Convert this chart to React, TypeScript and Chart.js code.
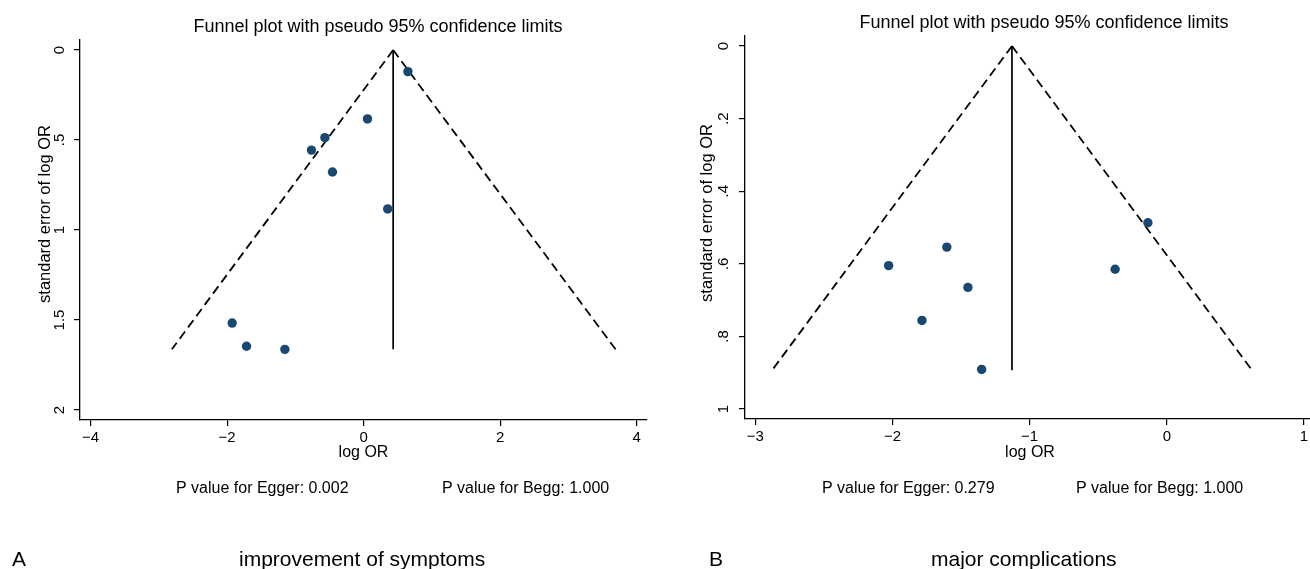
import React, { useEffect, useRef } from "react";
import { Chart, registerables } from "chart.js";

Chart.register(...registerables);

const FONT = "'Liberation Sans', Arial, Helvetica, sans-serif";

// ---------- Panel A: improvement of symptoms ----------
const logOrA = [0.648, 0.056, -0.568, -0.765, -0.457, 0.352, -1.926, -1.716, -1.154];
const seA = [0.12, 0.383, 0.487, 0.556, 0.678, 0.883, 1.517, 1.646, 1.663];
const pooledA = 0.432;
const seMaxA = 1.663;
const lowerLimitA = -2.81;
const upperLimitA = 3.69;
const xTicksA = [-4, -2, 0, 2, 4];
const xTickLabelsA = ["\u22124", "\u22122", "0", "2", "4"];
const yTicksA = [0, 0.5, 1, 1.5, 2];
const yTickLabelsA = ["0", ".5", "1", "1.5", "2"];
const pEggerA = "P value for Egger: 0.002";
const pBeggA = "P value for Begg: 1.000";
const letterA = "A";
const captionA = "improvement of symptoms";

// ---------- Panel B: major complications ----------
const logOrB = [-0.138, -0.377, -1.604, -2.028, -1.45, -1.785, -1.35];
const seB = [0.487, 0.615, 0.554, 0.605, 0.665, 0.756, 0.891];
const pooledB = -1.129;
const seMaxB = 0.893;
const lowerLimitB = -2.877;
const upperLimitB = 0.62;
const xTicksB = [-3, -2, -1, 0, 1];
const xTickLabelsB = ["\u22123", "\u22122", "\u22121", "0", "1"];
const yTicksB = [0, 0.2, 0.4, 0.6, 0.8, 1];
const yTickLabelsB = ["0", ".2", ".4", ".6", ".8", "1"];
const pEggerB = "P value for Egger: 0.279";
const pBeggB = "P value for Begg: 1.000";
const letterB = "B";
const captionB = "major complications";

const plotTitle = "Funnel plot with pseudo 95% confidence limits";
const xAxisTitle = "log OR";
const yAxisTitle = "standard error of log OR";

type TextItem = {
  text: string;
  x: number;
  y: number;
  size: number;
  align: CanvasTextAlign;
  rotate?: boolean;
};

type PanelProps = {
  left: number;
  width: number;
  height: number;
  logOr: number[];
  se: number[];
  pooled: number;
  seMax: number;
  lower: number;
  upper: number;
  xTicks: number[];
  xTickLabels: string[];
  yTicks: number[];
  yTickLabels: string[];
  xMin: number;
  xMax: number;
  yMin: number;
  yMax: number;
  padding: { left: number; top: number; right: number; bottom: number };
  yAxisWidth: number;
  xAxisHeight: number;
  yTickPad: number;
  xTickPad: number;
  xTitlePad: number;
  texts: TextItem[];
};

function FunnelPanel(p: PanelProps) {
  const ref = useRef<HTMLCanvasElement | null>(null);

  useEffect(() => {
    const canvas = ref.current;
    if (!canvas) return;

    const textPlugin = {
      id: "extraTexts",
      afterDraw(chart: any) {
        const ctx = chart.ctx as CanvasRenderingContext2D;
        ctx.save();
        ctx.fillStyle = "#000";
        for (const t of p.texts) {
          ctx.font = `${t.size}px ${FONT}`;
          ctx.textAlign = t.align;
          if (t.rotate) {
            ctx.save();
            ctx.translate(t.x, t.y);
            ctx.rotate(-Math.PI / 2);
            ctx.textBaseline = "middle";
            ctx.fillText(t.text, 0, 0);
            ctx.restore();
          } else {
            ctx.textBaseline = "alphabetic";
            ctx.fillText(t.text, t.x, t.y);
          }
        }
        ctx.restore();
      },
    };

    const points = p.logOr.map((x, i) => ({ x, y: p.se[i] }));

    const chart = new Chart(canvas, {
      type: "scatter",
      data: {
        datasets: [
          {
            label: "studies",
            data: points,
            backgroundColor: "#1a476f",
            borderColor: "#1a476f",
            borderWidth: 0,
            pointRadius: 4.7,
            pointHoverRadius: 4.7,
            showLine: false,
          },
          {
            label: "pooled",
            data: [
              { x: p.pooled, y: 0 },
              { x: p.pooled, y: p.seMax },
            ],
            showLine: true,
            borderColor: "#000",
            borderWidth: 1.7,
            pointRadius: 0,
            pointHoverRadius: 0,
          },
          {
            label: "lower limit",
            data: [
              { x: p.pooled, y: 0 },
              { x: p.lower, y: p.seMax },
            ],
            showLine: true,
            borderColor: "#000",
            borderWidth: 1.8,
            borderDash: [9, 5],
            pointRadius: 0,
            pointHoverRadius: 0,
          },
          {
            label: "upper limit",
            data: [
              { x: p.pooled, y: 0 },
              { x: p.upper, y: p.seMax },
            ],
            showLine: true,
            borderColor: "#000",
            borderWidth: 1.8,
            borderDash: [9, 5],
            pointRadius: 0,
            pointHoverRadius: 0,
          },
        ],
      },
      options: {
        animation: false,
        responsive: false,
        maintainAspectRatio: false,
        events: [],
        layout: { padding: p.padding },
        plugins: {
          legend: { display: false },
          tooltip: { enabled: false },
          title: { display: false },
        },
        scales: {
          x: {
            type: "linear",
            position: "bottom",
            min: p.xMin,
            max: p.xMax,
            afterBuildTicks: (s: any) => {
              s.ticks = p.xTicks.map((v) => ({ value: v }));
            },
            afterFit: (s: any) => {
              s.height = p.xAxisHeight;
            },
            ticks: {
              autoSkip: false,
              maxRotation: 0,
              minRotation: 0,
              padding: p.xTickPad,
              color: "#000",
              font: { family: FONT, size: 15 },
              callback: (v: any) => {
                const i = p.xTicks.indexOf(Number(v));
                return i >= 0 ? p.xTickLabels[i] : "";
              },
            },
            grid: {
              display: true,
              drawOnChartArea: false,
              drawTicks: true,
              tickLength: 6,
              color: "#000",
              lineWidth: 1.2,
            },
            border: { display: true, color: "#000", width: 1.3 },
            title: {
              display: true,
              text: xAxisTitle,
              color: "#000",
              font: { family: FONT, size: 16 },
              padding: { top: 0, bottom: p.xTitlePad },
            },
          },
          y: {
            type: "linear",
            position: "left",
            reverse: true,
            min: p.yMin,
            max: p.yMax,
            afterBuildTicks: (s: any) => {
              s.ticks = p.yTicks.map((v) => ({ value: v }));
            },
            afterFit: (s: any) => {
              s.width = p.yAxisWidth;
            },
            ticks: {
              autoSkip: false,
              minRotation: 90,
              maxRotation: 90,
              crossAlign: "center",
              padding: p.yTickPad,
              color: "#000",
              font: { family: FONT, size: 15 },
              callback: (v: any) => {
                const i = p.yTicks.indexOf(Number(v));
                return i >= 0 ? p.yTickLabels[i] : "";
              },
            },
            grid: {
              display: true,
              drawOnChartArea: false,
              drawTicks: true,
              tickLength: 6,
              color: "#000",
              lineWidth: 1.2,
            },
            border: { display: true, color: "#000", width: 1.3 },
            title: { display: false },
          },
        },
      } as any,
      plugins: [textPlugin],
    });

    return () => chart.destroy();
  }, []);

  return (
    <canvas
      ref={ref}
      width={p.width}
      height={p.height}
      style={{
        position: "absolute",
        left: p.left,
        top: 0,
        width: p.width,
        height: p.height,
        display: "block",
      }}
    />
  );
}

export default function App() {
  return (
    <div
      style={{
        position: "absolute",
        left: 0,
        top: 0,
        width: 1310,
        height: 569,
        overflow: "hidden",
        background: "#fff",
      }}
    >
      <FunnelPanel
        left={0}
        width={655}
        height={569}
        logOr={logOrA}
        se={seA}
        pooled={pooledA}
        seMax={seMaxA}
        lower={lowerLimitA}
        upper={upperLimitA}
        xTicks={xTicksA}
        xTickLabels={xTickLabelsA}
        yTicks={yTicksA}
        yTickLabels={yTickLabelsA}
        xMin={-4.155}
        xMax={4.15}
        yMin={-0.0556}
        yMax={2.0556}
        padding={{ left: 0, top: 40, right: 8, bottom: 89 }}
        yAxisWidth={80}
        xAxisHeight={60}
        yTickPad={3.6}
        xTickPad={3}
        xTitlePad={17.4}
        texts={[
          { text: plotTitle, x: 378, y: 32, size: 18, align: "center" },
          { text: yAxisTitle, x: 45, y: 214, size: 16.5, align: "center", rotate: true },
          { text: pEggerA, x: 176, y: 493, size: 16, align: "left" },
          { text: pBeggA, x: 442, y: 493, size: 16, align: "left" },
          { text: letterA, x: 12, y: 566, size: 21, align: "left" },
          { text: captionA, x: 239, y: 566, size: 21, align: "left" },
        ]}
      />
      <FunnelPanel
        left={655}
        width={700}
        height={569}
        logOr={logOrB}
        se={seB}
        pooled={pooledB}
        seMax={seMaxB}
        lower={lowerLimitB}
        upper={upperLimitB}
        xTicks={xTicksB}
        xTickLabels={xTickLabelsB}
        yTicks={yTicksB}
        yTickLabels={yTickLabelsB}
        xMin={-3.075}
        xMax={1.08}
        yMin={-0.0275}
        yMax={1.0275}
        padding={{ left: 0, top: 36, right: 40, bottom: 90 }}
        yAxisWidth={90}
        xAxisHeight={60}
        yTickPad={8.5}
        xTickPad={3}
        xTitlePad={16.4}
        texts={[
          { text: plotTitle, x: 389, y: 28, size: 18, align: "center" },
          { text: yAxisTitle, x: 52, y: 213, size: 16.5, align: "center", rotate: true },
          { text: pEggerB, x: 167, y: 493, size: 16, align: "left" },
          { text: pBeggB, x: 421, y: 493, size: 16, align: "left" },
          { text: letterB, x: 54, y: 566, size: 21, align: "left" },
          { text: captionB, x: 276, y: 566, size: 21, align: "left" },
        ]}
      />
    </div>
  );
}
